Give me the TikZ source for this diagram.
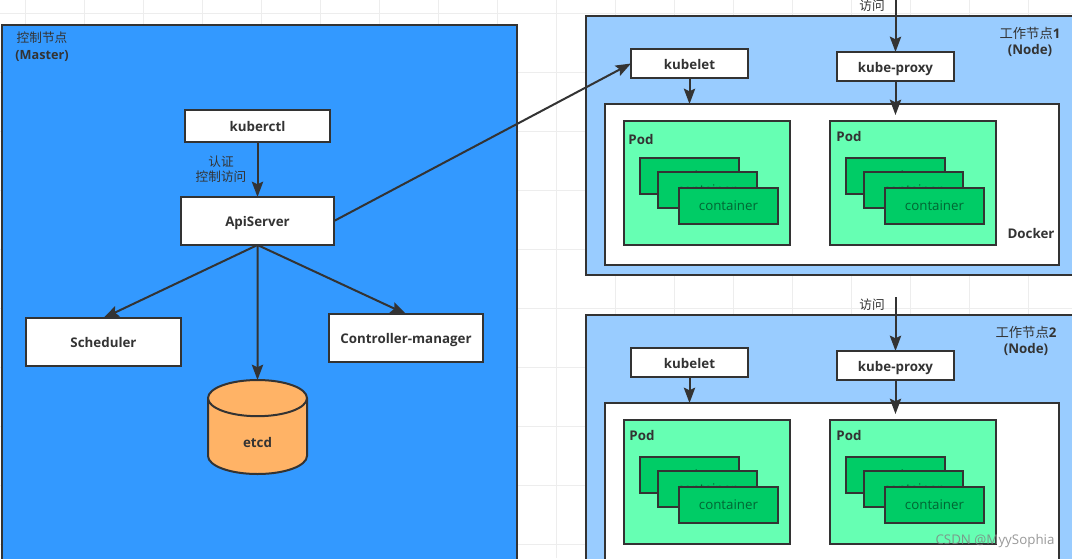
\documentclass[tikz,border=0pt]{standalone}
\usepackage{fontspec}
\setmainfont{Open Sans}
\newfontfamily\cjk{Noto Sans CJK SC}
\usetikzlibrary{arrows.meta, positioning, shapes.geometric}

\definecolor{masterblue}{HTML}{3399FF}
\definecolor{workerblue}{HTML}{99CCFF}
\definecolor{podgreen}{HTML}{66FFB3}
\definecolor{boxgreen}{HTML}{00CC66}
\definecolor{inkgray}{HTML}{333333}
\definecolor{etcdorange}{HTML}{FFB366}
\newcommand{\px}{0.75pt}

\begin{document}
\begin{tikzpicture}[x=\px, y=-\px, >={Stealth[length=11.5pt, width=8.5pt, inset=2pt]},
    area/.style ={draw=inkgray, line width=1.5pt, inner sep=0pt, outer sep=0pt},
    size/.style 2 args={minimum width=#1*\px, minimum height=#2*\px},
    block/.style={area, fill=white, font=\bfseries\fontsize{10}{11}\selectfont, text=inkgray,
                  text height=9.5pt, text depth=1pt},
    podbox/.style={area, fill=podgreen, size={166}{124}},
    ctr/.style  ={area, fill=boxgreen, size={99}{36}, text=boxgreen!50!black,
                  font=\fontsize{10}{11}\selectfont},
    tag/.style  ={inner sep=0pt, align=center, text=inkgray,
                  font=\bfseries\fontsize{10}{12}\selectfont},
    note/.style ={inner sep=0pt, align=center, text=inkgray,
                  font=\cjk\fontsize{9.5}{11.5}\selectfont},
    link/.style ={->, draw=inkgray, line width=1.5pt}
  ]

  \useasboundingbox (0,0) rectangle (1072,558);
  \clip (0,0) rectangle (1072,558);
  \fill[white] (0,0) rectangle (1072,558);

  % Background grid
  \foreach \gx in {25,84,...,1072}
    \draw[black!7, line width=0.5pt] (\gx,0) -- (\gx,558);
  \foreach \gy in {13,72,...,558}
    \draw[black!7, line width=0.5pt] (0,\gy) -- (1072,\gy);

  % Master
  \node[area, fill=masterblue, size={515}{600}, anchor=north west] (master) at (2,25) {};
  \node[note] (mastertag) at (42,47)
    {控制节点\\[1pt]{\bfseries\rmfamily (Master)}};

  \node[block, size={145}{32}] (kuberctl)  at (257.5,126) {kuberctl};
  \node[block, size={153}{48}] (apiserver) at (257.5,221) {ApiServer};
  \node[block, size={155}{48}] (scheduler) at (103.5,342) {Scheduler};
  \node[block, size={154}{48}] (manager)   at (406,338)   {Controller-manager};
  \node[area, shape=cylinder, shape border rotate=90, aspect=1.25, cylinder uses custom fill,
        cylinder body fill=etcdorange, cylinder end fill=etcdorange, anchor=south,
        size={99}{94}, text=inkgray, font=\bfseries\fontsize{10}{11}\selectfont,
        text height=17pt, text depth=0pt]
        (etcd) at (257.5,474) {etcd};
  \node[note] (authtag) at (221,169) {认证\\控制访问};

  % Workers
  \foreach \n/\dy/\tx/\pa/\pb/\pc in {1/0/1030/641/139/136, 2/299/1026/642/136/136} {
    \node[area, fill=workerblue, size={510}{259}, anchor=north west] (worker\n) at (586,16+\dy) {};
    \node[area, fill=white, size={454}{161}, anchor=north west] (docker\n) at (605,104+\dy) {};
    \node[tag] (workertag\n) at (\tx,42+\dy)
      {{\cjk\mdseries 工作节点}\n\\(Node)};
    \node[block, size={117}{29}] (kubelet\n) at (689.5,63.5+\dy) {kubelet};
    \node[block, size={117}{29}] (proxy\n)   at (895.5,66.5+\dy) {kube-proxy};

    % Pods and their containers
    \node[podbox, anchor=north west] (poda\n) at (624,121+\dy) {};
    \node[podbox, anchor=north west] (podb\n) at (830,121+\dy) {};
    \node[tag] (podatag\n) at (\pa,\pb+\dy) {Pod};
    \node[tag] (podbtag\n) at (849,\pc+\dy) {Pod};
    \foreach \p/\ox in {a/0, b/206} {
      \node[ctr] (ctr\p\n x) at (689.5+\ox,176+\dy) {container};
      \node[ctr] (ctr\p\n y) at (707+\ox,190+\dy)   {container};
      \node[ctr] (ctr\p\n z) at (728.5+\ox,206+\dy) {container};
    }

    \node[note] (visit\n) at (872,6+\dy) {访问};
    \coordinate (dockin\n) at (895.5,115+\dy);

    \draw[link] (kubelet\n.south) -- (kubelet\n.south |- docker\n.north);
    \draw[link] (proxy\n.south) -- (dockin\n);
  }
  \node[tag] (dockertag) at (1031,233) {Docker};

  % Requests coming from outside
  \coordinate (entry1) at (895.5,-5);
  \coordinate (entry2) at (895.5,297);
  \draw[link] (entry1) -- (proxy1.north);
  \draw[link] (entry2) -- (proxy2.north);

  % Master links
  \draw[link] (kuberctl) -- (apiserver);
  \draw[link] (apiserver.south) -- (scheduler.north);
  \draw[link] (apiserver.south) -- (etcd.north);
  \draw[link] (apiserver.south) -- (manager.north);
  \draw[link] (apiserver.east) -- (kubelet1.west);

  % Watermark
  \node[inner sep=0pt, text=black!50, opacity=0.8, font=\fontsize{10}{11}\selectfont] (mark) at (995,541) {CSDN @MyySophia};
\end{tikzpicture}
\end{document}
